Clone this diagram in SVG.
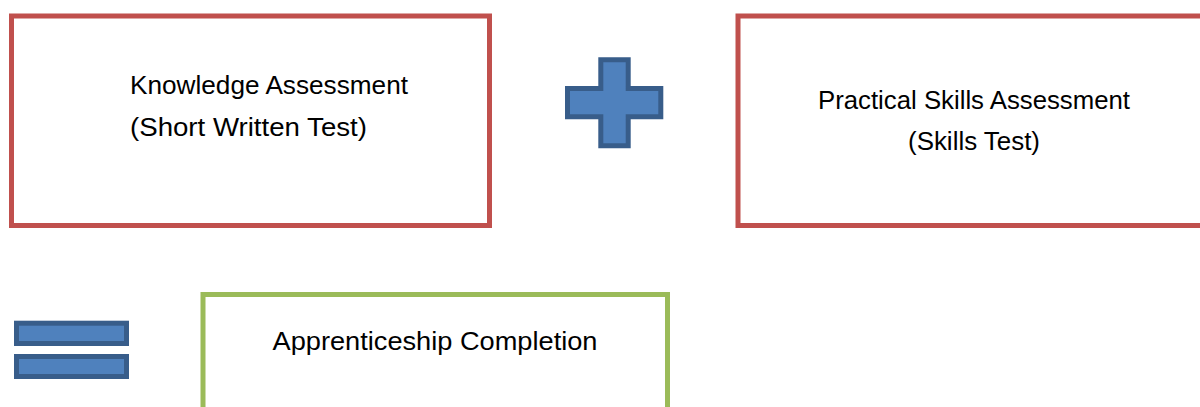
<svg xmlns="http://www.w3.org/2000/svg" width="1200" height="407" viewBox="0 0 1200 407">
<style>
.red{fill:#ffffff;stroke:#c0504d;stroke-width:5}
.green{fill:#ffffff;stroke:#9bbb59;stroke-width:5}
.sym{fill:#4f81bd;stroke:#385d8a;stroke-width:5}
.t{font-family:"Liberation Sans",Arial,sans-serif;font-size:25.5px;fill:#000000}
</style>
<rect width="1200" height="407" fill="#ffffff"/>
<g id="knowledge">
<rect class="red" x="11.5" y="16" width="478" height="209.5"/>
<text class="t" x="130" y="94" textLength="278" lengthAdjust="spacingAndGlyphs">Knowledge Assessment</text>
<text class="t" x="130" y="136" textLength="237" lengthAdjust="spacingAndGlyphs">(Short Written Test)</text>
</g>
<g id="plus">
<path class="sym" d="M600.8,59.8 H628.2 V88.5 H660.8 V116.8 H628.2 V145.8 H600.8 V116.8 H567.5 V88.5 H600.8 Z"/>
</g>
<g id="practical">
<rect class="red" x="738" y="16" width="500" height="209.5"/>
<text class="t" x="974" y="108.5" text-anchor="middle" textLength="312" lengthAdjust="spacingAndGlyphs">Practical Skills Assessment</text>
<text class="t" x="974" y="149.5" text-anchor="middle" textLength="132" lengthAdjust="spacingAndGlyphs">(Skills Test)</text>
</g>
<g id="equals">
<rect class="sym" x="16.5" y="323.2" width="110" height="20.3"/>
<rect class="sym" x="16.5" y="356.5" width="110" height="20"/>
</g>
<g id="completion">
<rect class="green" x="203" y="294.5" width="464.5" height="150"/>
<text class="t" x="435" y="350" text-anchor="middle" textLength="325" lengthAdjust="spacingAndGlyphs">Apprenticeship Completion</text>
</g>
<g id="connectors"></g>
</svg>
